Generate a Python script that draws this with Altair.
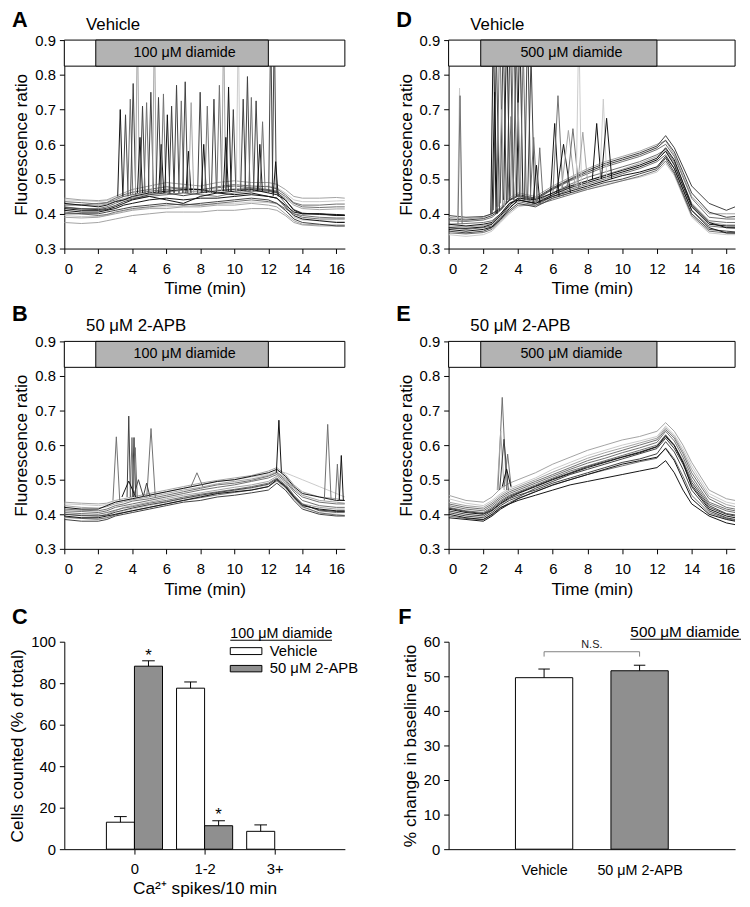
import json
import altair as alt
import pandas as pd

FONT = "Liberation Sans"

# ---------------------------------------------------------------- data
# time grid (min) on which the baseline traces were read
T = [0, 1, 2, 2.5, 3, 3.5, 4, 5, 6, 7, 8, 9, 10, 11, 12, 12.5, 13, 13.5, 14, 15, 16, 16.5]
X_TICKS = [0, 2, 4, 6, 8, 10, 12, 14, 16]
Y_TICKS = [0.3, 0.4, 0.5, 0.6, 0.7, 0.8, 0.9]

SHADES = ["v", "l", "m", "d", "k"]
SHADE_COLORS = ["#cacaca", "#a3a3a3", "#707070", "#404040", "#111111"]

# Panel A  (vehicle, 100 uM diamide)
A_TRACES = [
    ("v", [.440, .438, .435, .438, .445, .450, .455, .460, .455, .460, .465, .470, .470, .475, .480, .475, .460, .440, .435, .435, .437, .438]),
    ("v", [.395, .392, .392, .396, .402, .408, .412, .418, .420, .422, .424, .428, .430, .434, .432, .428, .410, .390, .382, .380, .378, .378]),
    ("l", [.445, .440, .438, .440, .450, .460, .470, .480, .490, .485, .480, .490, .495, .490, .490, .485, .470, .450, .445, .445, .447, .445]),
    ("l", [.390, .388, .390, .395, .400, .405, .410, .415, .415, .420, .420, .425, .425, .430, .425, .420, .400, .380, .370, .368, .368, .368]),
    ("l", [.375, .372, .375, .380, .385, .390, .395, .400, .405, .405, .405, .410, .410, .415, .415, .410, .395, .375, .368, .365, .365, .365]),
    ("l", [.428, .426, .424, .428, .436, .444, .448, .456, .462, .468, .462, .466, .472, .468, .466, .460, .445, .425, .415, .412, .414, .414]),
    ("m", [.425, .425, .430, .432, .440, .450, .455, .465, .470, .475, .470, .475, .480, .475, .470, .465, .450, .430, .420, .418, .420, .420]),
    ("m", [.405, .400, .395, .398, .405, .410, .415, .420, .425, .428, .425, .430, .435, .440, .435, .430, .415, .400, .395, .390, .388, .388]),
    ("m", [.420, .415, .415, .420, .430, .440, .445, .450, .455, .460, .455, .450, .460, .465, .465, .460, .430, .400, .390, .385, .385, .385]),
    ("m", [.435, .432, .428, .432, .445, .455, .462, .470, .478, .472, .468, .478, .484, .480, .478, .472, .455, .432, .425, .425, .428, .428]),
    ("d", [.400, .400, .400, .405, .410, .415, .420, .425, .430, .425, .430, .435, .440, .445, .440, .430, .410, .385, .375, .370, .365, .365]),
    ("d", [.418, .414, .412, .416, .424, .435, .442, .455, .460, .452, .460, .466, .470, .472, .468, .462, .440, .412, .402, .398, .396, .395]),
    ("k", [.430, .425, .420, .425, .435, .440, .450, .460, .465, .470, .470, .460, .465, .470, .460, .455, .440, .410, .400, .400, .395, .395]),
    ("k", [.410, .405, .405, .410, .415, .425, .430, .440, .445, .440, .445, .445, .450, .455, .450, .445, .420, .395, .385, .380, .375, .375]),
    ("k", [.415, .410, .410, .412, .420, .430, .440, .450, .440, .430, .450, .460, .455, .460, .450, .445, .425, .405, .400, .400, .398, .397]),
]
# spikes: (peak time, peak ratio, base ratio, half width, shade)
A_SPIKES = [
    (3.29, .700, .45, .15, "k"), (3.60, .685, .45, .15, "d"), (3.88, .730, .455, .15, "m"),
    (4.05, .775, .455, .15, "d"), (4.30, .950, .46, .12, "l"), (4.45, .620, .46, .15, "k"),
    (4.60, .710, .46, .15, "d"), (4.84, .720, .46, .15, "m"), (5.09, .750, .46, .15, "d"),
    (5.30, .950, .46, .12, "l"), (5.54, .735, .46, .15, "d"), (5.70, .600, .46, .15, "k"),
    (5.83, .745, .46, .15, "m"), (6.06, .685, .46, .15, "k"), (6.31, .710, .46, .15, "d"),
    (6.60, .770, .46, .15, "d"), (6.88, .725, .46, .15, "m"), (7.11, .780, .46, .15, "d"),
    (7.30, .580, .46, .15, "k"), (7.46, .720, .46, .15, "l"), (7.99, .750, .46, .15, "d"),
    (8.20, .600, .46, .15, "k"), (8.41, .710, .46, .15, "m"), (8.80, .730, .46, .15, "d"),
    (9.12, .770, .465, .15, "m"), (9.37, .950, .465, .12, "l"), (9.50, .620, .465, .15, "k"),
    (9.66, .765, .465, .15, "k"), (9.94, .700, .465, .15, "d"), (10.23, .950, .465, .12, "v"),
    (10.52, .730, .465, .15, "d"), (10.77, .795, .465, .15, "d"), (11.00, .735, .465, .15, "m"),
    (11.28, .725, .465, .15, "d"), (11.50, .600, .465, .15, "k"), (11.66, .665, .465, .15, "m"),
    (12.14, .950, .46, .12, "d"), (12.35, .950, .46, .12, "d"), (12.43, .550, .45, .15, "k"),
]

# Panel B  (50 uM 2-APB, 100 uM diamide)
B_TRACES = [
    ("v", [.390, .388, .385, .390, .400, .410, .415, .425, .435, .445, .452, .460, .468, .475, .485, .495, .475, .445, .420, .405, .400, .398]),
    ("v", [.430, .428, .425, .428, .435, .440, .445, .455, .465, .475, .485, .495, .500, .508, .515, .525, .520, .510, .500, .480, .460, .450]),
    ("l", [.435, .432, .430, .432, .440, .445, .450, .460, .470, .480, .490, .498, .505, .512, .525, .535, .515, .485, .465, .450, .445, .440]),
    ("l", [.400, .398, .395, .400, .410, .420, .425, .435, .445, .455, .462, .470, .478, .485, .495, .510, .490, .455, .430, .420, .415, .415]),
    ("l", [.425, .420, .418, .422, .430, .436, .442, .450, .460, .470, .478, .488, .495, .502, .512, .522, .505, .475, .455, .440, .435, .432]),
    ("m", [.410, .408, .405, .410, .420, .425, .430, .440, .450, .460, .470, .478, .485, .495, .505, .515, .495, .465, .440, .425, .420, .420]),
    ("m", [.415, .412, .410, .415, .425, .430, .438, .445, .455, .465, .475, .485, .490, .498, .510, .520, .500, .470, .450, .435, .430, .430]),
    ("m", [.405, .402, .400, .405, .412, .418, .422, .432, .440, .450, .458, .465, .472, .480, .490, .505, .485, .455, .430, .410, .405, .405]),
    ("m", [.392, .388, .386, .390, .398, .405, .410, .420, .430, .440, .448, .456, .463, .470, .480, .497, .478, .448, .422, .404, .398, .396]),
    ("d", [.385, .380, .380, .385, .395, .400, .405, .415, .425, .435, .440, .450, .455, .462, .470, .490, .470, .440, .415, .400, .395, .395]),
    ("d", [.400, .396, .395, .398, .406, .412, .418, .428, .436, .446, .455, .463, .470, .477, .487, .502, .482, .452, .428, .412, .408, .408]),
    ("k", [.420, .415, .415, .425, .435, .440, .445, .455, .465, .475, .485, .495, .500, .510, .520, .530, .510, .480, .460, .450, .440, .440]),
    ("k", [.395, .390, .390, .395, .400, .405, .410, .420, .430, .440, .450, .460, .465, .470, .480, .500, .480, .450, .425, .415, .410, .410]),
]
B_SPIKES = [
    (3.06, .624, .44, .20, "m"), (3.79, .684, .45, .10, "d"), (3.98, .622, .45, .10, "m"),
    (4.10, .622, .45, .10, "d"), (4.17, .593, .45, .12, "m"), (5.10, .648, .45, .25, "m"),
    (3.79, .496, .45, .40, "k"), (4.36, .500, .45, .30, "d"), (4.84, .490, .45, .20, "d"),
    (7.80, .520, .48, .35, "m"), (12.62, .672, .52, .15, "k"), (15.49, .660, .44, .20, "m"),
    (16.06, .545, .44, .12, "m"), (16.29, .570, .44, .12, "k"),
]

# Panel D  (vehicle, 500 uM diamide)
D_TRACES = [
    ("v", [.340, .335, .340, .350, .375, .400, .420, .430, .445, .460, .470, .485, .495, .505, .520, .545, .510, .450, .390, .345, .340, .340]),
    ("l", [.390, .385, .390, .400, .420, .445, .460, .450, .480, .505, .530, .550, .565, .580, .600, .610, .570, .510, .450, .400, .400, .400]),
    ("l", [.365, .362, .366, .372, .395, .425, .440, .432, .455, .478, .495, .512, .528, .545, .565, .580, .545, .485, .425, .375, .368, .368]),
    ("m", [.360, .355, .360, .365, .390, .420, .435, .425, .450, .470, .485, .500, .515, .530, .550, .570, .530, .470, .410, .365, .360, .358]),
    ("m", [.380, .378, .382, .390, .410, .440, .450, .440, .470, .495, .515, .535, .550, .565, .585, .600, .565, .505, .445, .390, .385, .385]),
    ("m", [.370, .372, .375, .380, .400, .430, .445, .435, .460, .485, .505, .520, .535, .550, .570, .585, .550, .490, .430, .380, .375, .375]),
    ("m", [.345, .342, .346, .355, .380, .405, .425, .425, .440, .455, .470, .482, .495, .508, .525, .552, .515, .455, .395, .350, .345, .344]),
    ("d", [.350, .345, .350, .360, .385, .410, .430, .420, .445, .460, .475, .490, .500, .515, .530, .560, .520, .460, .400, .355, .350, .348]),
    ("d", [.395, .390, .392, .400, .415, .440, .455, .445, .475, .500, .525, .545, .560, .575, .595, .625, .590, .535, .480, .430, .410, .420]),
    ("d", [.385, .382, .386, .395, .412, .438, .452, .442, .472, .498, .520, .540, .555, .570, .590, .612, .578, .520, .460, .405, .390, .392]),
    ("k", [.370, .365, .370, .375, .400, .430, .440, .430, .455, .475, .490, .505, .520, .535, .555, .580, .540, .480, .420, .370, .365, .365]),
    ("k", [.360, .358, .362, .370, .395, .425, .445, .440, .460, .480, .495, .510, .525, .540, .560, .590, .555, .490, .425, .375, .360, .360]),
    ("k", [.355, .350, .355, .362, .385, .415, .440, .430, .450, .465, .480, .495, .510, .520, .535, .565, .530, .470, .410, .360, .345, .345]),
]
D_SPIKES = [
    (0.63, .762, .38, .12, "v"), (0.66, .740, .37, .12, "m"),
    (2.58, .950, .40, .15, "k"), (2.75, .870, .41, .18, "d"), (2.95, .950, .42, .18, "m"),
    (3.15, .920, .43, .18, "d"), (3.35, .950, .44, .18, "k"), (3.55, .950, .44, .18, "d"),
    (3.75, .950, .45, .18, "m"), (3.90, .900, .45, .18, "d"), (4.10, .950, .45, .18, "k"),
    (4.30, .880, .44, .18, "m"), (4.55, .950, .44, .18, "d"), (4.75, .850, .44, .20, "d"),
    (2.65, .750, .40, .15, "k"), (3.05, .700, .42, .18, "l"), (3.60, .680, .44, .18, "m"),
    (4.00, .720, .45, .18, "l"), (4.90, .620, .44, .20, "m"), (5.06, .540, .43, .20, "k"),
    (5.25, .590, .43, .20, "m"),
    (6.11, .660, .45, .25, "k"), (6.30, .740, .45, .30, "m"), (6.62, .600, .46, .40, "k"),
    (6.90, .640, .47, .40, "l"), (7.16, .645, .47, .35, "m"), (7.50, .950, .48, .15, "v"),
    (7.73, .635, .48, .30, "l"), (8.53, .660, .50, .25, "k"), (8.91, .730, .50, .20, "v"),
    (9.10, .675, .50, .30, "k"),
]

# Panel E  (50 uM 2-APB, 500 uM diamide)
E_TRACES = [
    ("v", [.445, .432, .425, .440, .460, .475, .485, .505, .530, .550, .570, .585, .600, .612, .625, .655, .630, .590, .540, .460, .435, .430]),
    ("l", [.455, .440, .435, .450, .475, .490, .500, .520, .545, .565, .585, .600, .615, .625, .640, .665, .640, .600, .550, .470, .445, .440]),
    ("l", [.435, .425, .420, .435, .455, .470, .480, .500, .522, .542, .562, .578, .592, .606, .620, .650, .625, .582, .530, .452, .428, .422]),
    ("m", [.420, .410, .405, .420, .440, .455, .465, .485, .505, .525, .540, .555, .570, .585, .600, .630, .600, .555, .500, .430, .410, .405]),
    ("m", [.430, .420, .415, .430, .450, .465, .475, .495, .515, .535, .555, .570, .585, .600, .615, .645, .620, .575, .520, .445, .420, .415]),
    ("m", [.425, .415, .410, .425, .445, .460, .470, .490, .510, .530, .548, .562, .578, .592, .608, .640, .612, .565, .510, .435, .415, .410]),
    ("m", [.395, .388, .384, .398, .418, .434, .446, .466, .484, .500, .515, .528, .540, .552, .562, .592, .560, .510, .455, .405, .388, .382]),
    ("d", [.410, .400, .395, .410, .430, .445, .455, .470, .490, .505, .520, .535, .550, .560, .575, .610, .580, .530, .470, .410, .390, .385]),
    ("d", [.405, .395, .390, .405, .425, .440, .450, .475, .495, .515, .530, .545, .560, .575, .590, .620, .590, .545, .485, .420, .400, .395]),
    ("d", [.418, .408, .402, .416, .436, .452, .462, .482, .502, .520, .538, .552, .566, .580, .596, .628, .600, .550, .492, .425, .402, .398]),
    ("k", [.400, .390, .385, .400, .420, .430, .440, .455, .470, .485, .495, .505, .515, .525, .535, .555, .520, .470, .430, .395, .375, .370]),
    ("k", [.390, .385, .380, .395, .415, .430, .445, .465, .485, .500, .515, .530, .545, .555, .565, .590, .555, .500, .445, .400, .385, .380]),
    ("k", [.415, .405, .400, .412, .432, .448, .460, .480, .500, .518, .535, .550, .565, .578, .595, .625, .598, .550, .480, .415, .395, .390]),
]
E_SPIKES = [
    (3.09, .738, .47, .25, "m"), (3.00, .641, .47, .20, "l"), (3.19, .617, .47, .25, "d"),
    (3.40, .574, .48, .20, "m"), (3.34, .531, .48, .25, "k"),
]

STIM_ON, STIM_OFF = 1.85, 12.0
STIM_LOW, STIM_TOP = 0.825, 0.9
STIM_GRAY = "#b3b3b3"
BAR_GRAY = "#8f8f8f"

# Panel C
C_CATS = ["0", "1-2", "3+"]
C_VEH = [13.0, 77.6, 8.6]
C_VEH_ERR = [2.7, 3.0, 3.1]
C_APB = [88.2, 11.3, 0.0]
C_APB_ERR = [2.6, 2.4, 0.0]
C_Y_TICKS = [0, 20, 40, 60, 80, 100]
C_STAR_Y = [90.9, 13.9]      # asterisks over the 2-APB bars of the first two groups

# Panel F
F_GROUPS = ["Vehicle", "50 \u03bcM 2-APB"]
F_VALS = [49.6, 51.6]
F_ERR = [2.5, 1.6]
F_Y_TICKS = [0, 10, 20, 30, 40, 50, 60]
F_NS_Y, F_NS_TIP = 57.1, 55.7

MU = "\u03bc"


# ---------------------------------------------------------------- helpers
def text_at(txt, x, y, size, weight="normal", align="left", color="black"):
    return alt.Chart(pd.DataFrame({"a": [0]})).mark_text(
        font=FONT, fontSize=size, fontWeight=weight, align=align,
        baseline="alphabetic", color=color
    ).encode(x=alt.value(x), y=alt.value(y), text=alt.value(txt))


def trace_panel(traces, spikes, letter, title, dose, width, height, letter_y, title_y):
    rows = []
    for i, (shade, vals) in enumerate(traces):
        for t, v in zip(T, vals):
            rows.append({"id": f"b{i:02d}", "shade": shade, "t": t, "v": v})
    for j, (tp, vp, base, w, shade) in enumerate(spikes):
        for t, v in ((tp - w, base), (tp, vp), (tp + w, base)):
            rows.append({"id": f"s{j:02d}", "shade": shade, "t": t, "v": v})
    df = pd.DataFrame(rows)

    x = alt.X("t:Q", scale=alt.Scale(domain=[0, 16.5], nice=False, zero=False),
              axis=alt.Axis(values=X_TICKS, title="Time (min)", labelPadding=8, titlePadding=4,
                            titleFontWeight="normal", labelOverlap=False))
    y = alt.Y("v:Q", scale=alt.Scale(domain=[0.3, 0.9], nice=False, zero=False),
              axis=alt.Axis(values=Y_TICKS, format=".1f", title="Fluorescence ratio",
                            titleFontWeight="normal", labelOverlap=False))

    lines = alt.Chart(df).mark_line(strokeWidth=1, clip=True).encode(
        x=x, y=y,
        color=alt.Color("shade:N", scale=alt.Scale(domain=SHADES, range=SHADE_COLORS), legend=None),
        detail="id:N", order="t:Q")

    stim_df = pd.DataFrame({"t": [0, STIM_ON], "t2": [16.5, STIM_OFF],
                            "v": [STIM_LOW, STIM_LOW], "v2": [STIM_TOP, STIM_TOP],
                            "fill": ["white", STIM_GRAY]})
    stim = alt.Chart(stim_df).mark_rect(stroke="black", strokeWidth=1).encode(
        x=x, x2="t2:Q", y=y, y2="v2:Q", fill=alt.Fill("fill:N", scale=None))
    lab_df = pd.DataFrame({"t": [(STIM_ON + STIM_OFF) / 2 + 0.15], "v": [(STIM_LOW + STIM_TOP) / 2],
                           "txt": [f"{dose} {MU}M diamide"]})
    lab = alt.Chart(lab_df).mark_text(font=FONT, fontSize=14.5, baseline="middle").encode(
        x=x, y=y, text="txt:N")

    return alt.layer(
        lines, stim, lab,
        text_at(letter, -53, letter_y, 22, "bold"),
        text_at(title, 22, title_y, 17),
    ).properties(width=width, height=height)


def panel_c(width, height):
    rows = []
    bw = 0.4
    for i, cat in enumerate(C_CATS):
        for val, err, fill, x0 in ((C_VEH[i], C_VEH_ERR[i], "white", i - bw),
                                   (C_APB[i], C_APB_ERR[i], BAR_GRAY, i)):
            if val <= 0:
                continue
            rows.append({"x": x0, "x2": x0 + bw, "xc": x0 + bw / 2,
                         "c0": x0 + bw / 2 - 0.09, "c1": x0 + bw / 2 + 0.09,
                         "y": val, "zero": 0.0, "top": val + err, "fill": fill})
    df = pd.DataFrame(rows)
    lab_expr = "%s[datum.value]" % json.dumps(C_CATS)
    xs = alt.Scale(domain=[-1, 3], nice=False, zero=False)
    xa = alt.Axis(values=[0, 1, 2], labelExpr=lab_expr, titleFontWeight="normal",
                  title="Ca\u00b2\u207a spikes/10 min", labelPadding=8, titlePadding=3,
                  labelOverlap=False)
    ys = alt.Scale(domain=[0, 100], nice=False)
    ya = alt.Axis(values=C_Y_TICKS, title="Cells counted (% of total)",
                  titleFontWeight="normal", labelOverlap=False)

    def X(f):
        return alt.X(f, scale=xs, axis=xa)

    def Y(f):
        return alt.Y(f, scale=ys, axis=ya)

    bars = alt.Chart(df).mark_rect(stroke="black", strokeWidth=1).encode(
        x=X("x:Q"), x2="x2:Q", y=Y("y:Q"), y2="zero:Q", fill=alt.Fill("fill:N", scale=None))
    err = alt.Chart(df).mark_rule(color="black", strokeWidth=1).encode(
        x=X("xc:Q"), y=Y("y:Q"), y2="top:Q")
    cap = alt.Chart(df).mark_rule(color="black", strokeWidth=1).encode(
        x=X("c0:Q"), x2="c1:Q", y=Y("top:Q"))
    star_df = pd.DataFrame({"x": [0.2, 1.2], "y": C_STAR_Y})
    stars = alt.Chart(star_df).mark_text(font=FONT, fontSize=17, baseline="alphabetic", text="*").encode(
        x=X("x:Q"), y=Y("y:Q"))
    leg_box1 = alt.Chart(pd.DataFrame({"a": [0]})).mark_rect(fill="white", stroke="black", strokeWidth=1).encode(
        x=alt.value(168), x2=alt.value(200), y=alt.value(6), y2=alt.value(13))
    leg_box2 = alt.Chart(pd.DataFrame({"a": [0]})).mark_rect(fill=BAR_GRAY, stroke="black", strokeWidth=1).encode(
        x=alt.value(168), x2=alt.value(200), y=alt.value(24), y2=alt.value(30.5))
    underline = alt.Chart(pd.DataFrame({"a": [0]})).mark_rule(color="black", strokeWidth=1).encode(
        x=alt.value(168), x2=alt.value(271), y=alt.value(-1.5))
    return alt.layer(
        bars, err, cap, stars, leg_box1, leg_box2, underline,
        text_at(f"100 {MU}M diamide", 168, -4, 14.5),
        text_at("Vehicle", 208, 14, 15),
        text_at(f"50 {MU}M 2-APB", 208, 32, 15),
        text_at("C", -53, -18, 22, "bold"),
    ).properties(width=width, height=height)


def panel_f(width, height):
    hw = 0.3
    pos = [1, 2]
    df = pd.DataFrame({"x": [p - hw for p in pos], "x2": [p + hw for p in pos], "xc": pos,
                       "c0": [p - 0.06 for p in pos], "c1": [p + 0.06 for p in pos],
                       "y": F_VALS, "zero": [0.0, 0.0],
                       "top": [v + e for v, e in zip(F_VALS, F_ERR)],
                       "fill": ["white", BAR_GRAY]})
    lab_expr = "%s[datum.value - 1]" % json.dumps(F_GROUPS)
    xs = alt.Scale(domain=[0, 3], nice=False, zero=False)
    xa = alt.Axis(values=pos, labelExpr=lab_expr, title=None, ticks=False,
                  tickSize=0, labelPadding=15, labelFontSize=14.5, labelOverlap=False)
    ys = alt.Scale(domain=[0, 60], nice=False)
    ya = alt.Axis(values=F_Y_TICKS, title="% change in baseline ratio",
                  titleFontWeight="normal", labelOverlap=False, tickCount=7)

    def X(f):
        return alt.X(f, scale=xs, axis=xa)

    def Y(f):
        return alt.Y(f, scale=ys, axis=ya)

    bars = alt.Chart(df).mark_rect(stroke="black", strokeWidth=1).encode(
        x=X("x:Q"), x2="x2:Q", y=Y("y:Q"), y2="zero:Q", fill=alt.Fill("fill:N", scale=None))
    err = alt.Chart(df).mark_rule(color="black", strokeWidth=1).encode(
        x=X("xc:Q"), y=Y("y:Q"), y2="top:Q")
    cap = alt.Chart(df).mark_rule(color="black", strokeWidth=1).encode(
        x=X("c0:Q"), x2="c1:Q", y=Y("top:Q"))
    br_df = pd.DataFrame({"x": [1, 1, 2], "x2": [2, 1, 2],
                          "y": [F_NS_Y, F_NS_TIP, F_NS_TIP], "y2": [F_NS_Y, F_NS_Y, F_NS_Y]})
    bracket = alt.Chart(br_df).mark_rule(color="#808080", strokeWidth=1).encode(
        x=X("x:Q"), x2="x2:Q", y=Y("y:Q"), y2="y2:Q")
    ns = alt.Chart(pd.DataFrame({"x": [1.5], "y": [58.2]})).mark_text(
        font=FONT, fontSize=11, baseline="alphabetic", text="N.S.", color="#222222").encode(
        x=X("x:Q"), y=Y("y:Q"))
    underline = alt.Chart(pd.DataFrame({"a": [0]})).mark_rule(color="black", strokeWidth=1).encode(
        x=alt.value(184), x2=alt.value(296), y=alt.value(-2.5))
    return alt.layer(
        bars, err, cap, bracket, ns, underline,
        text_at(f"500 {MU}M diamide", 184, -5, 15.5),
        text_at("F", -51, -18, 22, "bold"),
    ).properties(width=width, height=height)


# ---------------------------------------------------------------- layout
WL, WR = 284, 290
pA = trace_panel(A_TRACES, A_SPIKES, "A", "Vehicle", 100, WL, 211, -13, -10)
pD = trace_panel(D_TRACES, D_SPIKES, "D", "Vehicle", 500, WR, 211, -13, -10)
pB = trace_panel(B_TRACES, B_SPIKES, "B", f"50 {MU}M 2-APB", 100, WL, 210, -21, -11)
pE = trace_panel(E_TRACES, E_SPIKES, "E", f"50 {MU}M 2-APB", 500, WR, 210, -21, -11)
pC = panel_c(WL, 210)
pF = panel_f(WR, 210)

chart = alt.concat(pA, pD, pB, pE, pC, pF, columns=2,
                   spacing={"row": 94, "column": 105}, bounds="flush").properties(
    padding={"top": -4, "left": 0, "right": 0, "bottom": 0}
).configure_view(stroke=None).configure_axis(
    labelFont=FONT, titleFont=FONT, labelFontSize=15, titleFontSize=17.5,
    titleFontWeight="normal", labelColor="black", titleColor="black",
    domainColor="black", tickColor="black", domainWidth=1, tickWidth=1,
    tickSize=5, grid=False, labelOverlap=False
).configure_axisY(labelPadding=4, titlePadding=4)

chart.save("out.html", embed_options={"renderer": "svg", "actions": False})
